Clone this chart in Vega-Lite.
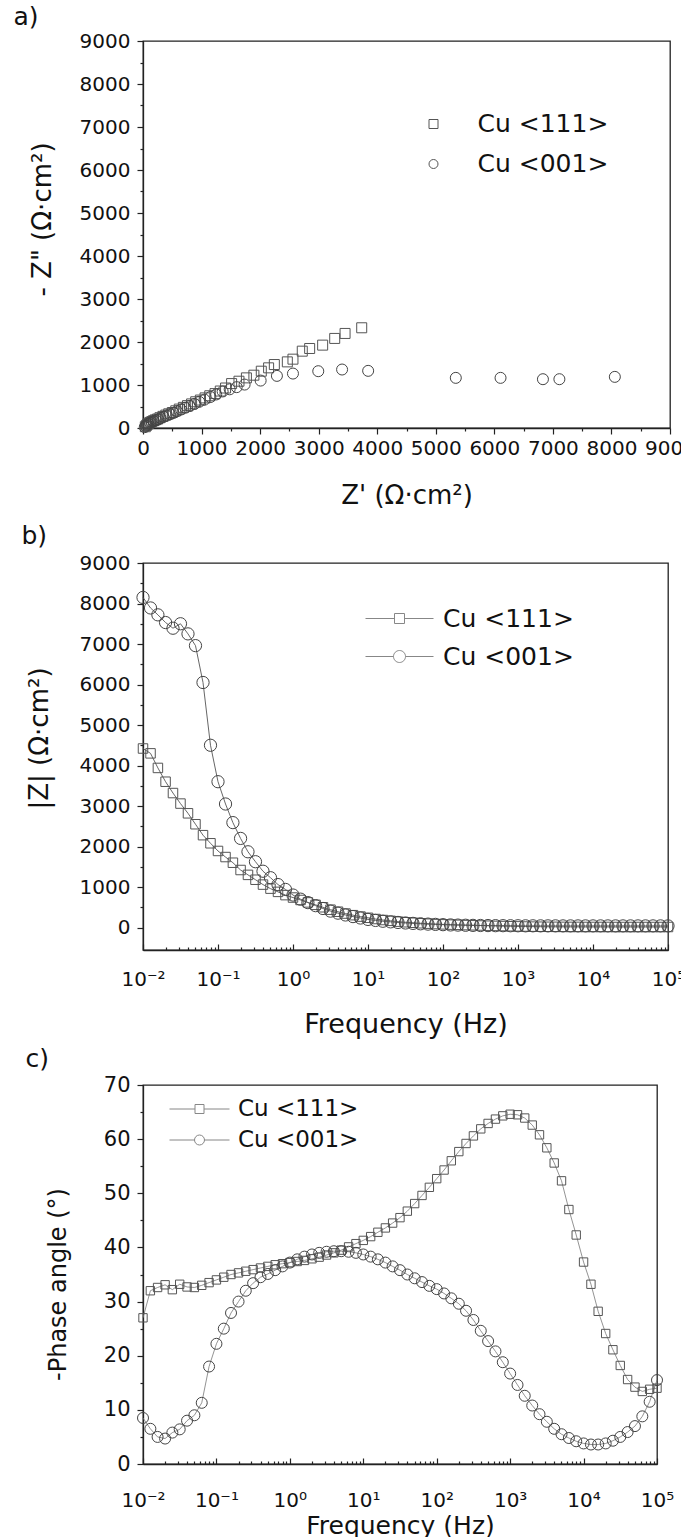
{
  "$schema": "https://vega.github.io/schema/vega-lite/v6.json",
  "background": "white",
  "padding": {"left": 12, "top": 4, "right": -13, "bottom": 0},
  "bounds": "flush",
  "spacing": 135,
  "resolve": {"scale": {"shape": "independent"}, "legend": {"shape": "independent"}},
  "config": {
    "font": "DejaVu Sans",
    "view": {"stroke": "#222", "strokeWidth": 1.3},
    "axis": {
      "labelFont": "DejaVu Sans", "labelFontSize": 20, "labelColor": "#111",
      "titleFont": "DejaVu Sans", "titleFontWeight": "normal", "titleColor": "#111",
      "domainColor": "#222", "domainWidth": 1.3, "tickColor": "#222", "tickWidth": 1.2,
      "grid": false, "labelOverlap": false, "labelFlush": false, "labelBound": false
    },
    "legend": {"labelFont": "DejaVu Sans", "labelColor": "#111", "title": null, "padding": 0},
    "title": {"font": "DejaVu Sans", "fontSize": 25, "fontWeight": "normal", "anchor": "start", "frame": "group", "color": "#111", "baseline": "alphabetic"}
  },
  "datasets": {
    "nyq": [
      {"s": "Cu <111>", "zr": 40, "zi": 30}, {"s": "Cu <111>", "zr": 60, "zi": 60}, {"s": "Cu <111>", "zr": 80, "zi": 90},
      {"s": "Cu <111>", "zr": 100, "zi": 110}, {"s": "Cu <111>", "zr": 120, "zi": 130}, {"s": "Cu <111>", "zr": 150, "zi": 150},
      {"s": "Cu <111>", "zr": 180, "zi": 170}, {"s": "Cu <111>", "zr": 210, "zi": 190}, {"s": "Cu <111>", "zr": 250, "zi": 210},
      {"s": "Cu <111>", "zr": 290, "zi": 240}, {"s": "Cu <111>", "zr": 340, "zi": 270}, {"s": "Cu <111>", "zr": 390, "zi": 300},
      {"s": "Cu <111>", "zr": 440, "zi": 330}, {"s": "Cu <111>", "zr": 500, "zi": 360}, {"s": "Cu <111>", "zr": 560, "zi": 400},
      {"s": "Cu <111>", "zr": 620, "zi": 440}, {"s": "Cu <111>", "zr": 690, "zi": 480}, {"s": "Cu <111>", "zr": 760, "zi": 520},
      {"s": "Cu <111>", "zr": 830, "zi": 560}, {"s": "Cu <111>", "zr": 900, "zi": 610}, {"s": "Cu <111>", "zr": 980, "zi": 650},
      {"s": "Cu <111>", "zr": 1060, "zi": 700}, {"s": "Cu <111>", "zr": 1140, "zi": 750}, {"s": "Cu <111>", "zr": 1230, "zi": 800},
      {"s": "Cu <111>", "zr": 1320, "zi": 860}, {"s": "Cu <111>", "zr": 1410, "zi": 930}, {"s": "Cu <111>", "zr": 1513, "zi": 1033},
      {"s": "Cu <111>", "zr": 1639, "zi": 1088}, {"s": "Cu <111>", "zr": 1766, "zi": 1166}, {"s": "Cu <111>", "zr": 1894, "zi": 1228},
      {"s": "Cu <111>", "zr": 2020, "zi": 1321}, {"s": "Cu <111>", "zr": 2145, "zi": 1399}, {"s": "Cu <111>", "zr": 2243, "zi": 1476},
      {"s": "Cu <111>", "zr": 2465, "zi": 1538}, {"s": "Cu <111>", "zr": 2561, "zi": 1601}, {"s": "Cu <111>", "zr": 2720, "zi": 1787},
      {"s": "Cu <111>", "zr": 2846, "zi": 1849}, {"s": "Cu <111>", "zr": 3068, "zi": 1927}, {"s": "Cu <111>", "zr": 3274, "zi": 2083},
      {"s": "Cu <111>", "zr": 3451, "zi": 2199}, {"s": "Cu <111>", "zr": 3735, "zi": 2331},
      {"s": "Cu <001>", "zr": 30, "zi": 20}, {"s": "Cu <001>", "zr": 50, "zi": 50}, {"s": "Cu <001>", "zr": 70, "zi": 80},
      {"s": "Cu <001>", "zr": 90, "zi": 100}, {"s": "Cu <001>", "zr": 120, "zi": 120}, {"s": "Cu <001>", "zr": 150, "zi": 140},
      {"s": "Cu <001>", "zr": 180, "zi": 160}, {"s": "Cu <001>", "zr": 220, "zi": 180}, {"s": "Cu <001>", "zr": 260, "zi": 200},
      {"s": "Cu <001>", "zr": 300, "zi": 230}, {"s": "Cu <001>", "zr": 350, "zi": 260}, {"s": "Cu <001>", "zr": 400, "zi": 290},
      {"s": "Cu <001>", "zr": 460, "zi": 320}, {"s": "Cu <001>", "zr": 520, "zi": 350}, {"s": "Cu <001>", "zr": 580, "zi": 390},
      {"s": "Cu <001>", "zr": 650, "zi": 430}, {"s": "Cu <001>", "zr": 720, "zi": 470}, {"s": "Cu <001>", "zr": 800, "zi": 510},
      {"s": "Cu <001>", "zr": 880, "zi": 560}, {"s": "Cu <001>", "zr": 960, "zi": 610}, {"s": "Cu <001>", "zr": 1050, "zi": 660},
      {"s": "Cu <001>", "zr": 1150, "zi": 720}, {"s": "Cu <001>", "zr": 1250, "zi": 780}, {"s": "Cu <001>", "zr": 1360, "zi": 850},
      {"s": "Cu <001>", "zr": 1480, "zi": 900}, {"s": "Cu <001>", "zr": 1600, "zi": 950}, {"s": "Cu <001>", "zr": 1735, "zi": 1010},
      {"s": "Cu <001>", "zr": 2009, "zi": 1103}, {"s": "Cu <001>", "zr": 2287, "zi": 1212}, {"s": "Cu <001>", "zr": 2561, "zi": 1266},
      {"s": "Cu <001>", "zr": 2993, "zi": 1321}, {"s": "Cu <001>", "zr": 3400, "zi": 1360}, {"s": "Cu <001>", "zr": 3845, "zi": 1329},
      {"s": "Cu <001>", "zr": 5342, "zi": 1166}, {"s": "Cu <001>", "zr": 6106, "zi": 1166}, {"s": "Cu <001>", "zr": 6830, "zi": 1135},
      {"s": "Cu <001>", "zr": 7111, "zi": 1135}, {"s": "Cu <001>", "zr": 8058, "zi": 1189}
    ],
    "bode": [
      {"s": "Cu <111>", "f": 0.01, "z": 4420, "p": 27.0}, {"s": "Cu <111>", "f": 0.0126, "z": 4300, "p": 32.0},
      {"s": "Cu <111>", "f": 0.0158, "z": 3940, "p": 32.6}, {"s": "Cu <111>", "f": 0.02, "z": 3600, "p": 33.1},
      {"s": "Cu <111>", "f": 0.0251, "z": 3320, "p": 32.2}, {"s": "Cu <111>", "f": 0.0316, "z": 3060, "p": 33.2},
      {"s": "Cu <111>", "f": 0.0398, "z": 2820, "p": 32.7}, {"s": "Cu <111>", "f": 0.0501, "z": 2550, "p": 32.6},
      {"s": "Cu <111>", "f": 0.0631, "z": 2280, "p": 33.0}, {"s": "Cu <111>", "f": 0.0794, "z": 2080, "p": 33.5},
      {"s": "Cu <111>", "f": 0.1, "z": 1890, "p": 34.0}, {"s": "Cu <111>", "f": 0.126, "z": 1740, "p": 34.5},
      {"s": "Cu <111>", "f": 0.158, "z": 1600, "p": 35.0}, {"s": "Cu <111>", "f": 0.2, "z": 1420, "p": 35.3},
      {"s": "Cu <111>", "f": 0.251, "z": 1300, "p": 35.6}, {"s": "Cu <111>", "f": 0.316, "z": 1180, "p": 35.9},
      {"s": "Cu <111>", "f": 0.398, "z": 1060, "p": 36.2}, {"s": "Cu <111>", "f": 0.501, "z": 960, "p": 36.5},
      {"s": "Cu <111>", "f": 0.631, "z": 880, "p": 36.8}, {"s": "Cu <111>", "f": 0.794, "z": 800, "p": 37.0},
      {"s": "Cu <111>", "f": 1, "z": 740, "p": 37.2}, {"s": "Cu <111>", "f": 1.26, "z": 680, "p": 37.4},
      {"s": "Cu <111>", "f": 1.58, "z": 620, "p": 37.6}, {"s": "Cu <111>", "f": 2, "z": 560, "p": 37.9},
      {"s": "Cu <111>", "f": 2.51, "z": 500, "p": 38.2}, {"s": "Cu <111>", "f": 3.16, "z": 440, "p": 38.6},
      {"s": "Cu <111>", "f": 3.98, "z": 390, "p": 39.0}, {"s": "Cu <111>", "f": 5.01, "z": 345, "p": 39.5},
      {"s": "Cu <111>", "f": 6.31, "z": 305, "p": 40.1}, {"s": "Cu <111>", "f": 7.94, "z": 270, "p": 40.7},
      {"s": "Cu <111>", "f": 10, "z": 240, "p": 41.3}, {"s": "Cu <111>", "f": 12.6, "z": 210, "p": 42.0},
      {"s": "Cu <111>", "f": 15.8, "z": 185, "p": 42.8}, {"s": "Cu <111>", "f": 20, "z": 165, "p": 43.6},
      {"s": "Cu <111>", "f": 25.1, "z": 145, "p": 44.5}, {"s": "Cu <111>", "f": 31.6, "z": 130, "p": 45.5},
      {"s": "Cu <111>", "f": 39.8, "z": 118, "p": 46.7}, {"s": "Cu <111>", "f": 50.1, "z": 105, "p": 48.1},
      {"s": "Cu <111>", "f": 63.1, "z": 95, "p": 49.6}, {"s": "Cu <111>", "f": 79.4, "z": 85, "p": 51.1},
      {"s": "Cu <111>", "f": 100, "z": 78, "p": 52.7}, {"s": "Cu <111>", "f": 126, "z": 72, "p": 54.3},
      {"s": "Cu <111>", "f": 158, "z": 66, "p": 56.0}, {"s": "Cu <111>", "f": 200, "z": 60, "p": 57.7},
      {"s": "Cu <111>", "f": 251, "z": 55, "p": 59.2}, {"s": "Cu <111>", "f": 316, "z": 50, "p": 60.6},
      {"s": "Cu <111>", "f": 398, "z": 45, "p": 61.9}, {"s": "Cu <111>", "f": 501, "z": 40, "p": 62.9},
      {"s": "Cu <111>", "f": 631, "z": 36, "p": 63.7}, {"s": "Cu <111>", "f": 794, "z": 32, "p": 64.3},
      {"s": "Cu <111>", "f": 1000, "z": 28, "p": 64.6}, {"s": "Cu <111>", "f": 1260, "z": 25, "p": 64.5},
      {"s": "Cu <111>", "f": 1580, "z": 22, "p": 63.9}, {"s": "Cu <111>", "f": 2000, "z": 20, "p": 62.6},
      {"s": "Cu <111>", "f": 2510, "z": 18, "p": 60.8}, {"s": "Cu <111>", "f": 3160, "z": 17, "p": 58.4},
      {"s": "Cu <111>", "f": 3980, "z": 16, "p": 55.6}, {"s": "Cu <111>", "f": 5010, "z": 15, "p": 52.3},
      {"s": "Cu <111>", "f": 6310, "z": 15, "p": 47.0}, {"s": "Cu <111>", "f": 7940, "z": 14, "p": 42.3},
      {"s": "Cu <111>", "f": 10000, "z": 14, "p": 37.3}, {"s": "Cu <111>", "f": 12600, "z": 14, "p": 33.2},
      {"s": "Cu <111>", "f": 15800, "z": 14, "p": 28.2}, {"s": "Cu <111>", "f": 20000, "z": 13, "p": 24.1},
      {"s": "Cu <111>", "f": 25100, "z": 13, "p": 21.1}, {"s": "Cu <111>", "f": 31600, "z": 13, "p": 18.2},
      {"s": "Cu <111>", "f": 39800, "z": 13, "p": 15.6}, {"s": "Cu <111>", "f": 50100, "z": 13, "p": 14.2},
      {"s": "Cu <111>", "f": 63100, "z": 13, "p": 13.4}, {"s": "Cu <111>", "f": 79400, "z": 13, "p": 13.8},
      {"s": "Cu <111>", "f": 100000, "z": 13, "p": 14.0},
      {"s": "Cu <001>", "f": 0.01, "z": 8150, "p": 8.5}, {"s": "Cu <001>", "f": 0.0126, "z": 7890, "p": 6.5},
      {"s": "Cu <001>", "f": 0.0158, "z": 7720, "p": 5.0}, {"s": "Cu <001>", "f": 0.02, "z": 7530, "p": 4.7},
      {"s": "Cu <001>", "f": 0.0251, "z": 7390, "p": 5.8}, {"s": "Cu <001>", "f": 0.0316, "z": 7500, "p": 6.4},
      {"s": "Cu <001>", "f": 0.0398, "z": 7250, "p": 8.0}, {"s": "Cu <001>", "f": 0.0501, "z": 6960, "p": 9.0},
      {"s": "Cu <001>", "f": 0.0631, "z": 6050, "p": 11.3}, {"s": "Cu <001>", "f": 0.0794, "z": 4500, "p": 18.0},
      {"s": "Cu <001>", "f": 0.1, "z": 3600, "p": 22.2}, {"s": "Cu <001>", "f": 0.126, "z": 3050, "p": 25.0},
      {"s": "Cu <001>", "f": 0.158, "z": 2590, "p": 27.9}, {"s": "Cu <001>", "f": 0.2, "z": 2200, "p": 30.0},
      {"s": "Cu <001>", "f": 0.251, "z": 1870, "p": 32.0}, {"s": "Cu <001>", "f": 0.316, "z": 1625, "p": 33.4},
      {"s": "Cu <001>", "f": 0.398, "z": 1390, "p": 34.5}, {"s": "Cu <001>", "f": 0.501, "z": 1230, "p": 35.1},
      {"s": "Cu <001>", "f": 0.631, "z": 1060, "p": 35.8}, {"s": "Cu <001>", "f": 0.794, "z": 940, "p": 36.5},
      {"s": "Cu <001>", "f": 1, "z": 802, "p": 37.2}, {"s": "Cu <001>", "f": 1.26, "z": 700, "p": 37.8},
      {"s": "Cu <001>", "f": 1.58, "z": 615, "p": 38.3}, {"s": "Cu <001>", "f": 2, "z": 540, "p": 38.7},
      {"s": "Cu <001>", "f": 2.51, "z": 470, "p": 39.0}, {"s": "Cu <001>", "f": 3.16, "z": 405, "p": 39.2},
      {"s": "Cu <001>", "f": 3.98, "z": 355, "p": 39.3}, {"s": "Cu <001>", "f": 5.01, "z": 310, "p": 39.3},
      {"s": "Cu <001>", "f": 6.31, "z": 270, "p": 39.2}, {"s": "Cu <001>", "f": 7.94, "z": 235, "p": 39.0},
      {"s": "Cu <001>", "f": 10, "z": 200, "p": 38.7}, {"s": "Cu <001>", "f": 12.6, "z": 175, "p": 38.3},
      {"s": "Cu <001>", "f": 15.8, "z": 155, "p": 37.8}, {"s": "Cu <001>", "f": 20, "z": 140, "p": 37.2},
      {"s": "Cu <001>", "f": 25.1, "z": 125, "p": 36.5}, {"s": "Cu <001>", "f": 31.6, "z": 112, "p": 35.8},
      {"s": "Cu <001>", "f": 39.8, "z": 102, "p": 35.0}, {"s": "Cu <001>", "f": 50.1, "z": 92, "p": 34.3},
      {"s": "Cu <001>", "f": 63.1, "z": 84, "p": 33.6}, {"s": "Cu <001>", "f": 79.4, "z": 77, "p": 32.9},
      {"s": "Cu <001>", "f": 100, "z": 70, "p": 32.3}, {"s": "Cu <001>", "f": 126, "z": 64, "p": 31.5},
      {"s": "Cu <001>", "f": 158, "z": 60, "p": 30.6}, {"s": "Cu <001>", "f": 200, "z": 56, "p": 29.6},
      {"s": "Cu <001>", "f": 251, "z": 53, "p": 28.3}, {"s": "Cu <001>", "f": 316, "z": 50, "p": 26.6},
      {"s": "Cu <001>", "f": 398, "z": 48, "p": 24.6}, {"s": "Cu <001>", "f": 501, "z": 46, "p": 22.7},
      {"s": "Cu <001>", "f": 631, "z": 45, "p": 20.8}, {"s": "Cu <001>", "f": 794, "z": 44, "p": 18.8},
      {"s": "Cu <001>", "f": 1000, "z": 43, "p": 16.7}, {"s": "Cu <001>", "f": 1260, "z": 42, "p": 14.6},
      {"s": "Cu <001>", "f": 1580, "z": 42, "p": 12.6}, {"s": "Cu <001>", "f": 2000, "z": 41, "p": 10.8},
      {"s": "Cu <001>", "f": 2510, "z": 41, "p": 9.2}, {"s": "Cu <001>", "f": 3160, "z": 41, "p": 7.8},
      {"s": "Cu <001>", "f": 3980, "z": 40, "p": 6.5}, {"s": "Cu <001>", "f": 5010, "z": 40, "p": 5.5},
      {"s": "Cu <001>", "f": 6310, "z": 40, "p": 4.8}, {"s": "Cu <001>", "f": 7940, "z": 40, "p": 4.2},
      {"s": "Cu <001>", "f": 10000, "z": 40, "p": 3.8}, {"s": "Cu <001>", "f": 12600, "z": 40, "p": 3.6},
      {"s": "Cu <001>", "f": 15800, "z": 40, "p": 3.6}, {"s": "Cu <001>", "f": 20000, "z": 40, "p": 3.8},
      {"s": "Cu <001>", "f": 25100, "z": 40, "p": 4.3}, {"s": "Cu <001>", "f": 31600, "z": 40, "p": 5.0},
      {"s": "Cu <001>", "f": 39800, "z": 40, "p": 5.9}, {"s": "Cu <001>", "f": 50100, "z": 40, "p": 7.0},
      {"s": "Cu <001>", "f": 63100, "z": 40, "p": 8.8}, {"s": "Cu <001>", "f": 79400, "z": 40, "p": 11.5},
      {"s": "Cu <001>", "f": 100000, "z": 40, "p": 15.5}
    ]
  },
  "vconcat": [
    {
      "width": 527, "height": 387,
      "title": {"text": "a)", "dx": -129.5, "offset": 1},
      "data": {"name": "nyq"},
      "encoding": {
        "x": {"field": "zr", "type": "quantitative", "scale": {"domain": [0, 9000], "nice": false, "zero": false},
          "axis": {"title": "Z' (Ω·cm²)", "titleFontSize": 26, "titlePadding": 24, "labelPadding": 4, "format": "d",
            "values": [0, 500, 1000, 1500, 2000, 2500, 3000, 3500, 4000, 4500, 5000, 5500, 6000, 6500, 7000, 7500, 8000, 8500, 9000],
            "labelExpr": "datum.value % 1000 === 0 ? datum.label : ''",
            "tickSize": {"condition": {"test": "datum.value % 1000 === 0", "value": 6}, "value": 3}}},
        "y": {"field": "zi", "type": "quantitative", "scale": {"domain": [0, 9000], "nice": false, "zero": false},
          "axis": {"title": "- Z\" (Ω·cm²)", "titleFontSize": 26, "titlePadding": 24, "titleY": 178, "labelPadding": 7, "format": "d",
            "values": [0, 500, 1000, 1500, 2000, 2500, 3000, 3500, 4000, 4500, 5000, 5500, 6000, 6500, 7000, 7500, 8000, 8500, 9000],
            "labelExpr": "datum.value % 1000 === 0 ? datum.label : ''",
            "tickSize": {"condition": {"test": "datum.value % 1000 === 0", "value": 6}, "value": 3}}},
        "shape": {"field": "s", "type": "nominal", "scale": {"domain": ["Cu <111>", "Cu <001>"], "range": ["square", "circle"]},
          "legend": {"orient": "none", "legendX": 278, "legendY": 70.5, "symbolSize": 81, "labelFontSize": 25, "labelOffset": 31.5,
            "rowPadding": 14, "symbolStrokeColor": "#555", "symbolStrokeWidth": 1, "symbolFillColor": "transparent"}}
      },
      "layer": [
        {"transform": [{"filter": "datum.s === 'Cu <111>'"}],
          "mark": {"type": "point", "filled": false, "color": "#555", "strokeWidth": 1, "opacity": 1, "size": 100}},
        {"transform": [{"filter": "datum.s === 'Cu <001>'"}],
          "mark": {"type": "point", "filled": false, "color": "#444", "strokeWidth": 1, "opacity": 1, "size": 121}}
      ]
    },
    {
      "width": 525, "height": 387,
      "title": {"text": "b)", "dx": -121.5, "offset": 4},
      "data": {"name": "bode"},
      "encoding": {
        "x": {"field": "f", "type": "quantitative", "scale": {"type": "log", "domain": [0.01, 100000], "nice": false},
          "axis": {"title": "Frequency (Hz)", "titleFontSize": 27, "titlePadding": 19, "labelPadding": 25,
            "values": [0.01, 0.02, 0.03, 0.04, 0.05, 0.06, 0.07, 0.08, 0.09, 0.1, 0.2, 0.3, 0.4, 0.5, 0.6, 0.7, 0.8, 0.9, 1, 2, 3, 4, 5, 6, 7, 8, 9, 10, 20, 30, 40, 50, 60, 70, 80, 90, 100, 200, 300, 400, 500, 600, 700, 800, 900, 1000, 2000, 3000, 4000, 5000, 6000, 7000, 8000, 9000, 10000, 20000, 30000, 40000, 50000, 60000, 70000, 80000, 90000, 100000],
            "labelExpr": "abs(log(datum.value)/LN10 - round(log(datum.value)/LN10)) < 0.01 ? '10' + ['⁻²','⁻¹','⁰','¹','²','³','⁴','⁵'][round(log(datum.value)/LN10) + 2] : ''",
            "tickSize": {"condition": {"test": "abs(log(datum.value)/LN10 - round(log(datum.value)/LN10)) < 0.01", "value": -6}, "value": -3}}},
        "y": {"field": "z", "type": "quantitative", "scale": {"domain": [-555, 9000], "nice": false, "zero": false},
          "axis": {"title": "|Z| (Ω·cm²)", "titleFontSize": 26, "titlePadding": 27, "titleY": 175, "labelPadding": 7, "format": "d",
            "values": [0, 500, 1000, 1500, 2000, 2500, 3000, 3500, 4000, 4500, 5000, 5500, 6000, 6500, 7000, 7500, 8000, 8500, 9000],
            "labelExpr": "datum.value % 1000 === 0 ? datum.label : ''",
            "tickSize": {"condition": {"test": "datum.value % 1000 === 0", "value": 6}, "value": 3}}}
      },
      "layer": [
        {"mark": {"type": "line", "color": "#555", "strokeWidth": 0.9}, "encoding": {"detail": {"field": "s", "type": "nominal"}}},
        {"transform": [{"filter": "datum.s === 'Cu <111>'"}],
          "mark": {"type": "point", "shape": "square", "filled": false, "color": "#555", "strokeWidth": 1, "opacity": 1, "size": 90}},
        {"transform": [{"filter": "datum.s === 'Cu <001>'"}],
          "mark": {"type": "point", "shape": "circle", "filled": false, "color": "#444", "strokeWidth": 1, "opacity": 1, "size": 150}},
        {"mark": {"type": "point", "filled": false, "color": "#555", "strokeWidth": 1, "size": 0},
          "encoding": {"shape": {"field": "s", "type": "nominal",
            "scale": {"domain": ["Cu <111>", "Cu <001>"], "range": ["M-3.4,0L-0.5,0M0.5,0L3.4,0M-0.5,-0.5L0.5,-0.5L0.5,0.5L-0.5,0.5Z", "M-3.4,0L-0.6,0M0.6,0L3.4,0M0.6,0A0.6,0.6,0,1,1,-0.6,0A0.6,0.6,0,1,1,0.6,0Z"]},
            "legend": {"orient": "none", "legendX": 244, "legendY": 43, "symbolSize": 400, "labelFontSize": 25, "labelOffset": 31,
              "rowPadding": 12, "symbolStrokeColor": "#555", "symbolStrokeWidth": 1, "symbolFillColor": "transparent"}}}}
      ]
    },
    {
      "width": 514, "height": 379,
      "title": {"text": "c)", "dx": -117.5, "offset": 2},
      "data": {"name": "bode"},
      "encoding": {
        "x": {"field": "f", "type": "quantitative", "scale": {"type": "log", "domain": [0.01, 100000], "nice": false},
          "axis": {"title": "Frequency (Hz)", "titleFontSize": 25, "titlePadding": 0, "labelPadding": 32,
            "values": [0.01, 0.02, 0.03, 0.04, 0.05, 0.06, 0.07, 0.08, 0.09, 0.1, 0.2, 0.3, 0.4, 0.5, 0.6, 0.7, 0.8, 0.9, 1, 2, 3, 4, 5, 6, 7, 8, 9, 10, 20, 30, 40, 50, 60, 70, 80, 90, 100, 200, 300, 400, 500, 600, 700, 800, 900, 1000, 2000, 3000, 4000, 5000, 6000, 7000, 8000, 9000, 10000, 20000, 30000, 40000, 50000, 60000, 70000, 80000, 90000, 100000],
            "labelExpr": "abs(log(datum.value)/LN10 - round(log(datum.value)/LN10)) < 0.01 ? '10' + ['⁻²','⁻¹','⁰','¹','²','³','⁴','⁵'][round(log(datum.value)/LN10) + 2] : ''",
            "tickSize": {"condition": {"test": "abs(log(datum.value)/LN10 - round(log(datum.value)/LN10)) < 0.01", "value": -6}, "value": -3}}},
        "y": {"field": "p", "type": "quantitative", "scale": {"domain": [0, 70], "nice": false, "zero": false},
          "axis": {"title": "-Phase angle (°)", "titleFontSize": 24, "titlePadding": 33, "titleY": 199, "labelPadding": 7, "labelFontSize": 21, "format": "d",
            "values": [0, 5, 10, 15, 20, 25, 30, 35, 40, 45, 50, 55, 60, 65, 70],
            "labelExpr": "datum.value % 10 === 0 ? datum.label : ''",
            "tickSize": {"condition": {"test": "datum.value % 10 === 0", "value": 6}, "value": 3}}}
      },
      "layer": [
        {"mark": {"type": "line", "color": "#777", "strokeWidth": 0.8}, "encoding": {"detail": {"field": "s", "type": "nominal"}}},
        {"transform": [{"filter": "datum.s === 'Cu <111>'"}],
          "mark": {"type": "point", "shape": "square", "filled": false, "color": "#555", "strokeWidth": 1, "opacity": 1, "size": 70}},
        {"transform": [{"filter": "datum.s === 'Cu <001>'"}],
          "mark": {"type": "point", "shape": "circle", "filled": false, "color": "#444", "strokeWidth": 1, "opacity": 1, "size": 121}},
        {"mark": {"type": "point", "filled": false, "color": "#555", "strokeWidth": 1, "size": 0},
          "encoding": {"shape": {"field": "s", "type": "nominal",
            "scale": {"domain": ["Cu <111>", "Cu <001>"], "range": ["M-3,0L-0.45,0M0.45,0L3,0M-0.45,-0.45L0.45,-0.45L0.45,0.45L-0.45,0.45Z", "M-3,0L-0.5,0M0.5,0L3,0M0.5,0A0.5,0.5,0,1,1,-0.5,0A0.5,0.5,0,1,1,0.5,0Z"]},
            "legend": {"orient": "none", "legendX": 45, "legendY": 12.5, "symbolSize": 400, "labelFontSize": 23, "labelOffset": 27,
              "rowPadding": 7, "symbolStrokeColor": "#555", "symbolStrokeWidth": 1, "symbolFillColor": "transparent"}}}}
      ]
    }
  ]
}
